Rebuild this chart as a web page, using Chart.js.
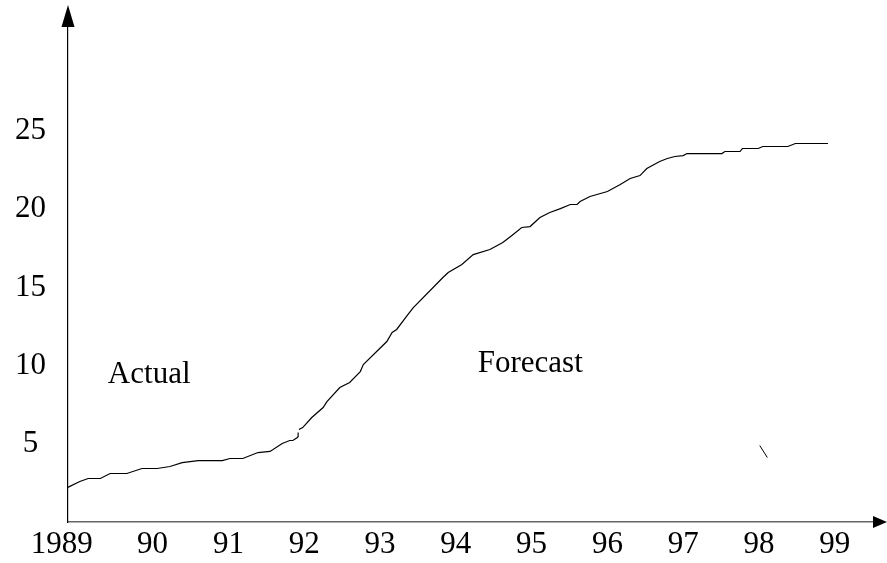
<!DOCTYPE html>
<html lang="en">
<head>
  <meta charset="UTF-8">
  <title>Actual and Forecast</title>
  <script src="https://cdn.jsdelivr.net/npm/chart.js"></script>
  <style>
    html, body { margin: 0; padding: 0; background: #fff; }
    #chartContainer { width: 887px; height: 563px; }
  </style>
</head>
<body>
  <div id="chartContainer">
    <canvas id="myChart" width="887" height="563"></canvas>
  </div>

  <script>
    // curve (x = year, y = value); null marks the small break at 92
    const years = [
      88.88, 89.04, 89.15, 89.31, 89.44, 89.66, 89.86, 90.06, 90.23, 90.39,
      90.60, 90.92, 91.02, 91.19, 91.39, 91.55, 91.71, 91.81, 91.85, 91.91,
      91.92, 91.92, 91.925,
      91.93, 91.98, 92.10, 92.25, 92.30, 92.47, 92.60, 92.74, 92.78, 93.09,
      93.16, 93.22, 93.37, 93.44, 93.83, 93.90, 94.08, 94.23, 94.45, 94.62,
      94.74, 94.87, 94.98, 95.11, 95.24, 95.38, 95.51, 95.60, 95.64, 95.77,
      96.00, 96.17, 96.30, 96.43, 96.52, 96.69, 96.79, 96.89, 97.00, 97.05,
      97.51, 97.55, 97.75, 97.78, 97.99, 98.05, 98.38, 98.48, 98.91
    ];
    const values = [
      2.21, 2.59, 2.78, 2.78, 3.10, 3.10, 3.42, 3.42, 3.55, 3.80,
      3.93, 3.93, 4.06, 4.06, 4.44, 4.51, 5.02, 5.21, 5.21, 5.40,
      5.47, 5.72, null,
      5.91, 6.04, 6.68, 7.32, 7.70, 8.60, 8.92, 9.62, 10.07, 11.54,
      12.12, 12.31, 13.27, 13.71, 15.63, 15.95, 16.46, 17.10, 17.42, 17.87,
      18.32, 18.83, 18.89, 19.47, 19.79, 20.04, 20.30, 20.30, 20.49, 20.81,
      21.13, 21.58, 21.96, 22.15, 22.60, 23.05, 23.24, 23.37, 23.43, 23.56,
      23.56, 23.69, 23.69, 23.88, 23.88, 24.01, 24.01, 24.20, 24.20
    ];

    // stray little stroke near 98
    const strayYears = [98.01, 98.11];
    const strayValues = [4.89, 4.12];

    const xTickValues = [88.80, 90, 91, 92, 93, 94, 95, 96, 97, 98, 99];
    const xTickLabels = ['1989', '90', '91', '92', '93', '94', '95', '96', '97', '98', '99'];
    const yTickValues = [5, 10, 15, 20, 25];
    const yTickLabels = ['5', '10', '15', '20', '25'];

    const notes = [
      { text: 'Actual', x: 89.41, y: 8.86 },
      { text: 'Forecast', x: 94.29, y: 9.62 }
    ];

    const serif = '"Liberation Serif", "Times New Roman", serif';

    const toPoints = (xs, ys) => xs.map((x, i) => ({ x: x, y: ys[i] }));

    // arrow heads on both axes, plus the two text notes
    const axisExtras = {
      id: 'axisExtras',
      afterDraw(chart) {
        const ctx = chart.ctx;
        const a = chart.chartArea;
        const xs = chart.scales.x;
        const ys = chart.scales.y;
        ctx.save();
        ctx.fillStyle = '#000';
        ctx.beginPath();
        ctx.moveTo(a.left - 6.5, a.top);
        ctx.lineTo(a.left + 6.5, a.top);
        ctx.lineTo(a.left, a.top - 22);
        ctx.closePath();
        ctx.fill();
        ctx.beginPath();
        ctx.moveTo(a.right, a.bottom - 6);
        ctx.lineTo(a.right, a.bottom + 6);
        ctx.lineTo(a.right + 14, a.bottom);
        ctx.closePath();
        ctx.fill();

        ctx.font = '31px ' + serif;
        ctx.textAlign = 'left';
        ctx.textBaseline = 'alphabetic';
        notes.forEach(n => {
          ctx.fillText(n.text, xs.getPixelForValue(n.x), ys.getPixelForValue(n.y));
        });
        ctx.restore();
      }
    };

    const ctx = document.getElementById('myChart').getContext('2d');
    const myChart = new Chart(ctx, {
      type: 'line',
      data: {
        datasets: [{
          data: toPoints(years, values),
          borderColor: '#000',
          borderWidth: 1.2,
          pointRadius: 0,
          fill: false,
          tension: 0,
          spanGaps: false
        }, {
          data: toPoints(strayYears, strayValues),
          borderColor: '#000',
          borderWidth: 1,
          pointRadius: 0,
          fill: false,
          tension: 0
        }]
      },
      options: {
        responsive: false,
        animation: false,
        layout: { padding: { top: 27, right: 14, left: 0, bottom: 0 } },
        plugins: {
          legend: { display: false },
          tooltip: { enabled: false }
        },
        scales: {
          x: {
            type: 'linear',
            min: 88.884,
            max: 99.504,
            grid: { display: false, drawTicks: false },
            border: { display: true, color: '#666', width: 1.5 },
            afterBuildTicks: scale => {
              scale.ticks = xTickValues.map(v => ({ value: v }));
            },
            afterFit: scale => {
              scale.height = 41;
              scale.paddingLeft = 0;
              scale.paddingRight = 0;
            },
            ticks: {
              color: '#000',
              padding: 4,
              maxRotation: 0,
              autoSkip: false,
              font: { family: serif, size: 31 },
              callback: (value, index) => xTickLabels[index]
            }
          },
          y: {
            type: 'linear',
            min: 0,
            max: 31.65,
            grid: { display: false, drawTicks: false },
            border: { display: true, color: '#000', width: 1.2 },
            afterBuildTicks: scale => {
              scale.ticks = yTickValues.map(v => ({ value: v }));
            },
            afterFit: scale => {
              scale.width = 68;
              scale.paddingTop = 0;
              scale.paddingBottom = 0;
            },
            ticks: {
              color: '#000',
              padding: 22,
              crossAlign: 'center',
              autoSkip: false,
              font: { family: serif, size: 31 },
              callback: (value, index) => yTickLabels[index]
            }
          }
        }
      },
      plugins: [axisExtras]
    });
  </script>
</body>
</html>
